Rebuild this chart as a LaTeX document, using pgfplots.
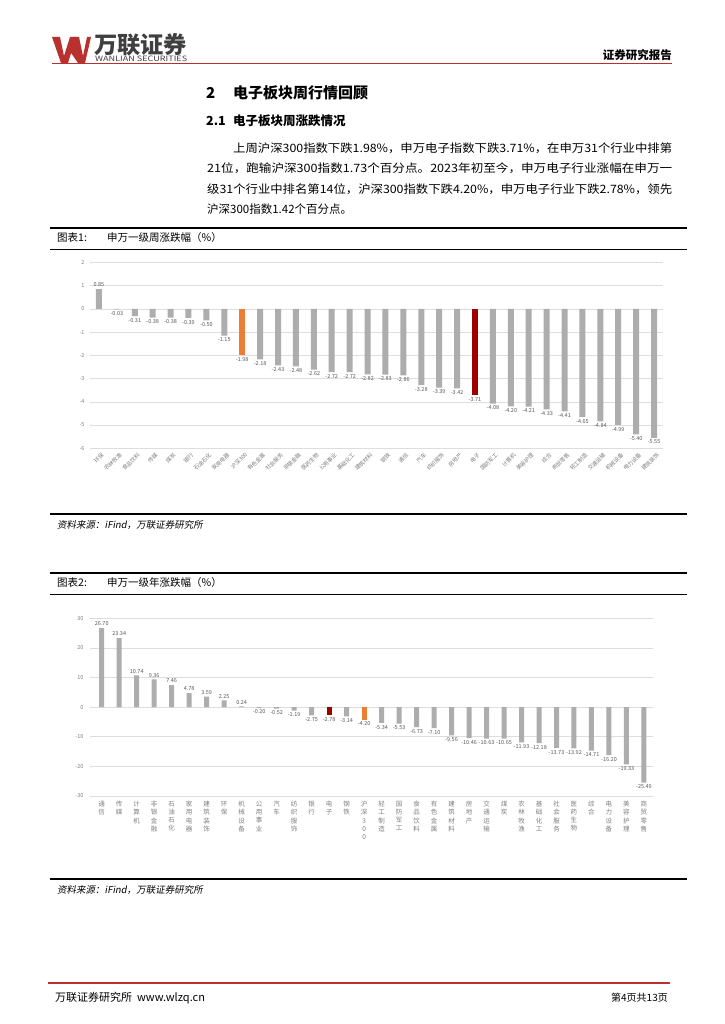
\documentclass[border=0pt]{standalone}
\usepackage{fontspec}
\setmainfont{Noto Sans CJK SC}
\newfontfamily\slfont{Noto Sans CJK SC}[FakeSlant=0.18]
\usepackage{graphicx}
\usepackage{pgfplots}
\pgfplotsset{compat=1.18}
\definecolor{barg}{HTML}{ADADAD}
\definecolor{baro}{HTML}{ED7D31}
\definecolor{barr}{HTML}{9E0000}
\definecolor{gridc}{HTML}{DDDDDD}
\definecolor{labc}{HTML}{808080}
\definecolor{hred}{HTML}{B8312F}
\definecolor{logog}{HTML}{3F3F3F}
\newcommand{\fs}[1]{\fontsize{#1}{#1}\selectfont}
\begin{document}
\begin{tikzpicture}
\fill[white] (0,0) rectangle (724pt,-1024pt);
\path[use as bounding box] (0,0) rectangle (724pt,-1024pt);
\begin{scope}[x=1pt,y=-1pt]
% logo
\fill[hred] (52,37)--(60,37)--(64,56)--(70,37)--(76,37)--(68,63)--(61,63)--cycle;
\fill[hred] (69,50)--(73,37)--(79,37)--(83,56)--(87,37)--(91,37)--(85,63)--(78,63)--cycle;
\node[anchor=west,inner sep=0,text=logog] at (94,45) {\resizebox{93pt}{!}{\fs{22}\bfseries 万联证券}};
\node[anchor=west,inner sep=0,text=logog] at (95,59) {\resizebox{92pt}{5.5pt}{\fs{7}WANLIAN SECURITIES}};
\node[anchor=east,inner sep=0] at (672,55) {\fs{11.5}\bfseries 证券研究报告};
\draw[hred,line width=0.8pt] (52,63)--(672,63);
% headings
\node[anchor=west,inner sep=0] at (206,93) {\fs{15}\bfseries 2};
\node[anchor=west,inner sep=0] at (233,93) {\fs{15}\bfseries 电子板块周行情回顾};
\node[anchor=west,inner sep=0] at (206,121) {\fs{12.5}\bfseries 2.1};
\node[anchor=west,inner sep=0] at (233,121) {\fs{12.5}\bfseries 电子板块周涨跌情况};
% paragraph
\node[anchor=west,inner sep=0] at (233,148) {\resizebox{439pt}{\height}{\fs{11.5}上周沪深300指数下跌1.98\%，申万电子指数下跌3.71\%，在申万31个行业中排第}};
\node[anchor=west,inner sep=0] at (207,168.5) {\resizebox{465pt}{\height}{\fs{11.5}21位，跑输沪深300指数1.73个百分点。2023年初至今，申万电子行业涨幅在申万一}};
\node[anchor=west,inner sep=0] at (207,189) {\resizebox{465pt}{\height}{\fs{11.5}级31个行业中排名第14位，沪深300指数下跌4.20\%，申万电子行业下跌2.78\%，领先}};
\node[anchor=west,inner sep=0] at (207,209.5) {\fs{11.5}沪深300指数1.42个百分点。};
% figure 1 frame
\draw[line width=1.6pt] (50,228)--(687,228);
\node[anchor=west,inner sep=0] at (57,238) {\fs{10.5}图表1:};
\node[anchor=west,inner sep=0] at (107,238) {\fs{10.5}申万一级周涨跌幅（\%）};
\draw[line width=0.6pt] (50,249)--(687,249);
\draw[line width=1.6pt] (50,514)--(687,514);
\node[anchor=west,inner sep=0] at (57,525) {\fs{9.5}\slfont 资料来源：iFind，万联证券研究所};
% figure 2 frame
\draw[line width=1.6pt] (50,573)--(687,573);
\node[anchor=west,inner sep=0] at (57,583) {\fs{10.5}图表2:};
\node[anchor=west,inner sep=0] at (107,583) {\fs{10.5}申万一级年涨跌幅（\%）};
\draw[line width=0.6pt] (50,594)--(687,594);
\draw[line width=1.6pt] (50,879)--(687,879);
\node[anchor=west,inner sep=0] at (57,890) {\fs{9.5}\slfont 资料来源：iFind，万联证券研究所};
% footer
\draw[hred,line width=1.6pt] (48,983)--(670,983);
\node[anchor=west,inner sep=0] at (55,998) {\fs{11}万联证券研究所\ \ www.wlzq.cn};
\node[anchor=east,inner sep=0] at (668,998) {\fs{10}第4页共13页};
\end{scope}
% chart 1
\begin{axis}[
  at={(90pt,-448.3pt)}, anchor=south west,
  scale only axis, width=573pt, height=186pt,
  xmin=-0.5, xmax=31.5, ymin=-6, ymax=2,
  ytick={-6,-5,...,2},
  xtick={0,...,31},
  xticklabels={环保,农林牧渔,食品饮料,传媒,煤炭,银行,石油石化,家用电器,沪深300,有色金属,社会服务,非银金融,医药生物,公用事业,基础化工,建筑材料,钢铁,通信,汽车,纺织服饰,房地产,电子,国防军工,计算机,美容护理,综合,商贸零售,轻工制造,交通运输,机械设备,电力设备,建筑装饰},
  axis line style={draw=none},
  major tick length=0pt,
  ymajorgrids, grid style={gridc, line width=0.6pt},
  yticklabel style={font=\fs{5.5}, text=labc, xshift=-2pt},
  xticklabel style={font=\fs{5.5}, text=labc, rotate=45, anchor=north east, inner sep=1pt, yshift=-3pt},
  /pgf/number format/assume math mode=true,
  ybar, bar width=6pt,
  nodes near coords={\pgfmathprintnumber[fixed,fixed zerofill,precision=2,assume math mode=true]{\pgfplotspointmeta}},
  every node near coord/.append style={font=\fs{5.5}, text=black!65, inner sep=2pt},
  clip=false,
]
\addplot[fill=barg, draw=none, bar shift=0pt] coordinates {
(0,0.85) (1,-0.03) (2,-0.31) (3,-0.38) (4,-0.38) (5,-0.39) (6,-0.50) (7,-1.15)
(9,-2.18) (10,-2.43) (11,-2.48) (12,-2.62) (13,-2.72) (14,-2.72) (15,-2.82) (16,-2.83)
(17,-2.86) (18,-3.28) (19,-3.39) (20,-3.42) (22,-4.08) (23,-4.20) (24,-4.21) (25,-4.33)
(26,-4.41) (27,-4.65) (28,-4.84) (29,-4.99) (30,-5.40) (31,-5.55)};
\addplot[fill=baro, draw=none, bar shift=0pt] coordinates {(8,-1.98)};
\addplot[fill=barr, draw=none, bar shift=0pt] coordinates {(21,-3.71)};
\end{axis}
% chart 2
\begin{axis}[
  at={(90pt,-796pt)}, anchor=south west,
  scale only axis, width=562.7pt, height=177.7pt,
  xmin=-0.67, xmax=31.5, ymin=-30, ymax=30,
  ytick={-30,-20,...,30},
  xtick={0,...,31},
  xticklabels={{通\\信},{传\\媒},{计\\算\\机},{非\\银\\金\\融},{石\\油\\石\\化},{家\\用\\电\\器},{建\\筑\\装\\饰},{环\\保},{机\\械\\设\\备},{公\\用\\事\\业},{汽\\车},{纺\\织\\服\\饰},{银\\行},{电\\子},{钢\\铁},{沪\\深\\3\\0\\0},{轻\\工\\制\\造},{国\\防\\军\\工},{食\\品\\饮\\料},{有\\色\\金\\属},{建\\筑\\材\\料},{房\\地\\产},{交\\通\\运\\输},{煤\\炭},{农\\林\\牧\\渔},{基\\础\\化\\工},{社\\会\\服\\务},{医\\药\\生\\物},{综\\合},{电\\力\\设\\备},{美\\容\\护\\理},{商\\贸\\零\\售}},
  axis line style={draw=none},
  major tick length=0pt,
  ymajorgrids, grid style={gridc, line width=0.6pt},
  yticklabel style={font=\fs{5.5}, text=labc, xshift=-3pt},
  xticklabel style={font=\fontsize{6.5}{8.2}\selectfont, text=labc, align=center, anchor=north, inner sep=0pt, yshift=-5pt},
  /pgf/number format/assume math mode=true,
  ybar, bar width=5pt,
  nodes near coords={\pgfmathprintnumber[fixed,fixed zerofill,precision=2,assume math mode=true]{\pgfplotspointmeta}},
  every node near coord/.append style={font=\fs{5.5}, text=black!65, inner sep=2pt},
  clip=false,
]
\addplot[fill=barg, draw=none, bar shift=0pt] coordinates {
(0,26.70) (1,23.34) (2,10.74) (3,9.36) (4,7.46) (5,4.78) (6,3.59) (7,2.25) (8,0.24)
(9,-0.20) (10,-0.52) (11,-1.19) (12,-2.75) (14,-3.14) (16,-5.34) (17,-5.53)
(18,-6.73) (19,-7.10) (20,-9.56) (21,-10.46) (22,-10.63) (23,-10.65) (24,-11.93)
(25,-12.18) (26,-13.73) (27,-13.92) (28,-14.71) (29,-16.20) (30,-19.33) (31,-25.49)};
\addplot[fill=barr, draw=none, bar shift=0pt] coordinates {(13,-2.78)};
\addplot[fill=baro, draw=none, bar shift=0pt] coordinates {(15,-4.20)};
\end{axis}
\end{tikzpicture}
\end{document}
